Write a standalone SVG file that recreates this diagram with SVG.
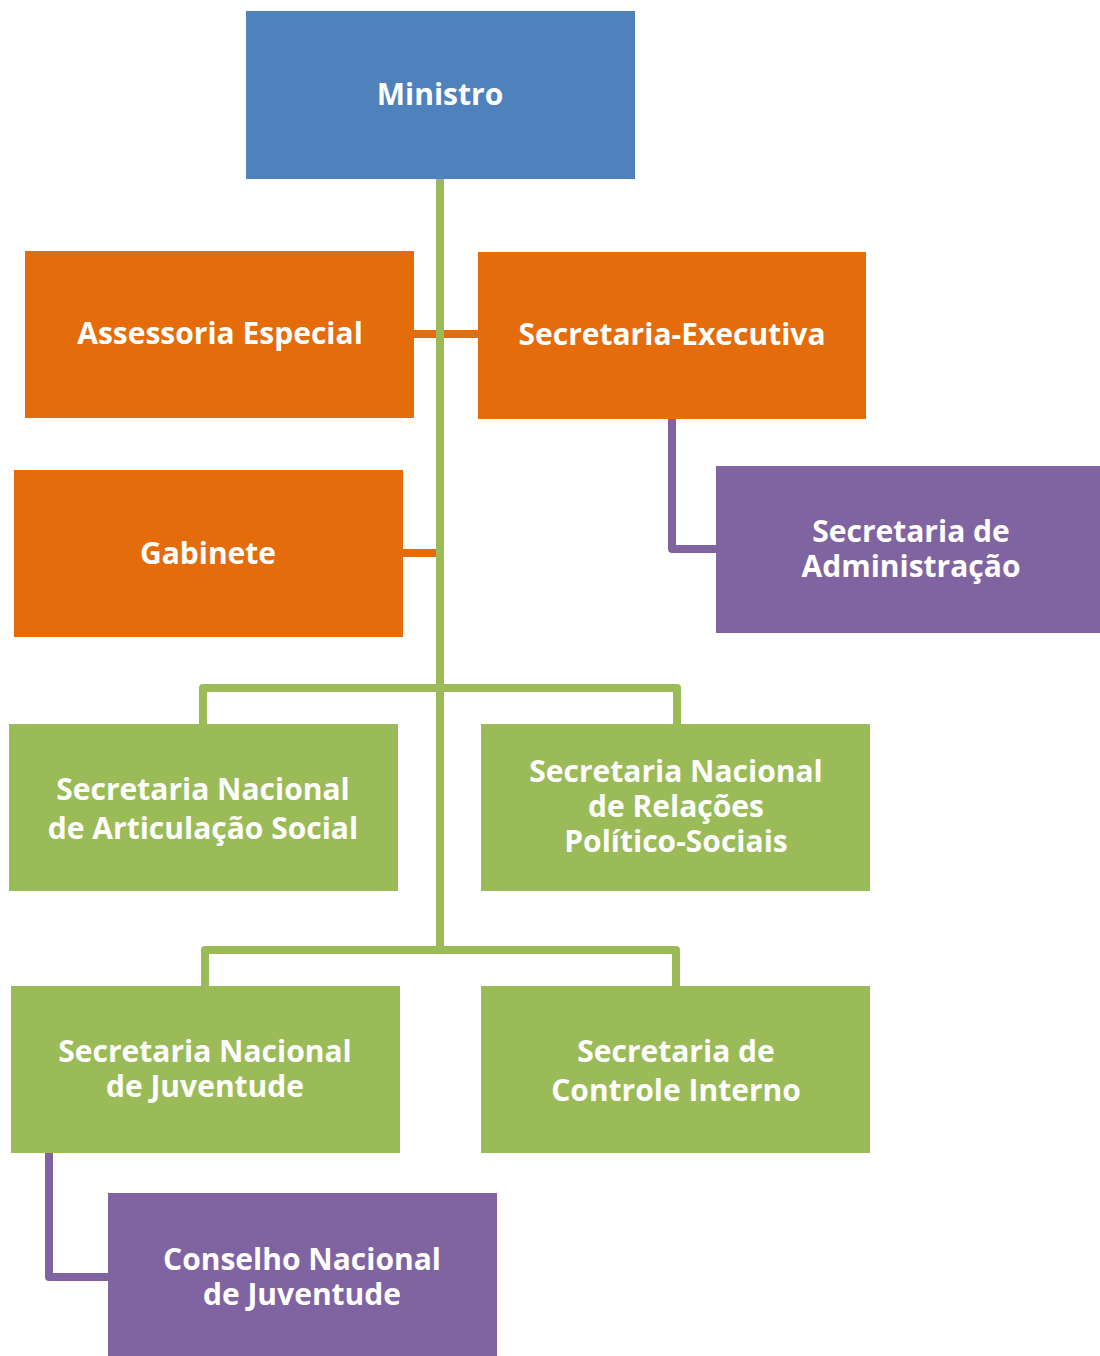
<svg xmlns="http://www.w3.org/2000/svg" width="1100" height="1356" viewBox="0 0 1100 1356">
<style>
.t{font-family:"Open Sans","DejaVu Sans",sans-serif;font-weight:bold;font-size:30px;fill:#fff;text-anchor:middle}
.blue{fill:#4F81BD}.orange{fill:#E46C0A}.green{fill:#9BBB59}.purple{fill:#8064A2}
.cg{fill:none;stroke:#9BBB59;stroke-width:8;stroke-linejoin:round}
.co{fill:none;stroke:#E46C0A;stroke-width:8}
.cp{fill:none;stroke:#8064A2;stroke-width:8;stroke-linejoin:round}
</style>
<rect width="1100" height="1356" fill="#fff"/>
<g id="connectors">
<path class="co" d="M414 334H478"/>
<path class="co" d="M403 553H440"/>
<path class="cg" d="M440 179V950"/>
<path class="cg" d="M203 724V688H677V724"/>
<path class="cg" d="M205 986V950H676V986"/>
<path class="cp" d="M672 419V549H716"/>
<path class="cp" d="M49 1153V1277H108"/>
</g>
<g id="ministro"><rect class="blue" x="246" y="11" width="389" height="168"/><text class="t" x="440" y="105">Ministro</text></g>
<g id="assessoria"><rect class="orange" x="25" y="251" width="389" height="167"/><text class="t" x="220" y="344">Assessoria Especial</text></g>
<g id="secexec"><rect class="orange" x="478" y="252" width="388" height="167"/><text class="t" x="672" y="345">Secretaria-Executiva</text></g>
<g id="gabinete"><rect class="orange" x="14" y="470" width="389" height="167"/><text class="t" x="208" y="564">Gabinete</text></g>
<g id="secadm"><rect class="purple" x="716" y="466" width="384" height="167"/><text class="t" x="911" y="542">Secretaria de</text><text class="t" x="911" y="577">Administração</text></g>
<g id="snas"><rect class="green" x="9" y="724" width="389" height="167"/><text class="t" x="203" y="800">Secretaria Nacional</text><text class="t" x="203" y="839">de Articulação Social</text></g>
<g id="snrps"><rect class="green" x="481" y="724" width="389" height="167"/><text class="t" x="676" y="782">Secretaria Nacional</text><text class="t" x="676" y="817">de Relações</text><text class="t" x="676" y="852">Político-Sociais</text></g>
<g id="snj"><rect class="green" x="11" y="986" width="389" height="167"/><text class="t" x="205" y="1062">Secretaria Nacional</text><text class="t" x="205" y="1097">de Juventude</text></g>
<g id="sci"><rect class="green" x="481" y="986" width="389" height="167"/><text class="t" x="676" y="1062">Secretaria de</text><text class="t" x="676" y="1101">Controle Interno</text></g>
<g id="conjuve"><rect class="purple" x="108" y="1193" width="389" height="163"/><text class="t" x="302" y="1270">Conselho Nacional</text><text class="t" x="302" y="1305">de Juventude</text></g>
</svg>
